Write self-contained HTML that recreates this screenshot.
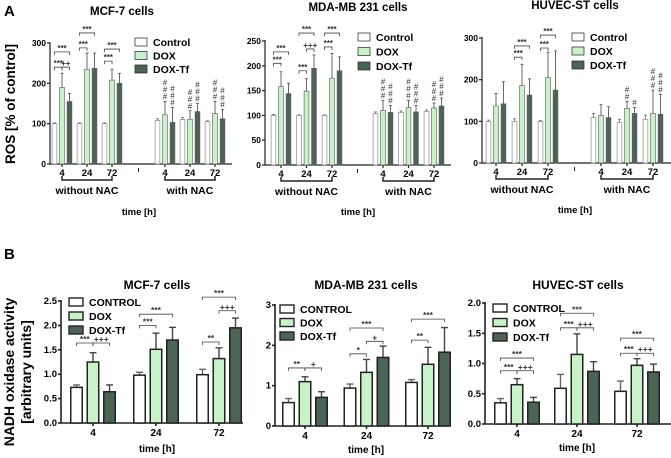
<!DOCTYPE html>
<html><head><meta charset="utf-8"><style>
body{margin:0;background:#fff}
svg{display:block;font-family:"Liberation Sans",Arial,sans-serif;font-weight:bold}
</style></head><body>
<svg id="fig" width="671" height="458" viewBox="0 0 671 458">
<text x="4" y="16" font-size="15">A</text>
<text x="4" y="259" font-size="15">B</text>
<text transform="translate(15,104) rotate(-90)" text-anchor="middle" font-size="13.5">ROS [% of control]</text>
<text transform="translate(14,372) rotate(-90)" text-anchor="middle" font-size="14">NADH oxidase activity</text>
<text transform="translate(31,372) rotate(-90)" text-anchor="middle" font-size="14">[arbitrary units]</text>
</svg>
<script>
// ===== data =====
const groupsA = ["4","24","72","4","24","72"];
const groupsB = ["4","24","72"];
const seriesNames = ["Control","DOX","DOX-Tf"];
const seriesNamesB = ["CONTROL","DOX","DOX-Tf"];
// A1 MCF-7 (mean, err-top)
const a1Ctrl=[100,100,100,108,110,105], a1CtrlE=[102,102,102,112,115,107];
const a1Dox=[190,235,208,122,111,125], a1DoxE=[225,275,235,155,132,155];
const a1Tf=[155,237,200,103,130,112], a1TfE=[175,275,225,140,150,135];
// A2 MDA-MB 231
const a2Ctrl=[100,100,100,104,106,108], a2CtrlE=[102,101,101,107,109,111];
const a2Dox=[158,149,175,110,116,115], a2DoxE=[188,174,225,130,130,125];
const a2Tf=[144,195,190,106,107,119], a2TfE=[165,222,218,120,120,135];
// A3 HUVEC-ST
const a3Ctrl=[100,100,100,109,97,105], a3CtrlE=[103,106,102,119,105,115];
const a3Dox=[137,186,205,114,131,119], a3DoxE=[167,237,266,140,148,175];
const a3Tf=[142,163,175,109,119,117], a3TfE=[195,202,269,135,133,165];
// hashes count [dox, tf] per group
const a1Hash=[[0,0],[0,0],[0,0],[3,3],[3,3],[3,3]];
const a2Hash=[[0,0],[0,0],[0,0],[3,3],[3,3],[3,3]];
const a3Hash=[[0,0],[0,0],[0,0],[0,0],[2,1],[3,3]];
// B
const b1Ctrl=[0.73,0.98,0.99], b1CtrlE=[0.78,1.04,1.10];
const b1Dox=[1.25,1.51,1.32], b1DoxE=[1.44,1.84,1.54];
const b1Tf=[0.64,1.70,1.95], b1TfE=[0.78,1.96,2.15];
const b2Ctrl=[0.58,0.94,1.08], b2CtrlE=[0.68,1.04,1.15];
const b2Dox=[1.10,1.33,1.53], b2DoxE=[1.22,1.65,1.95];
const b2Tf=[0.71,1.70,1.83], b2TfE=[0.85,1.98,2.44];
const b3Ctrl=[0.35,0.59,0.54], b3CtrlE=[0.42,0.82,0.71];
const b3Dox=[0.65,1.15,0.97], b3DoxE=[0.75,1.49,1.08];
const b3Tf=[0.36,0.87,0.86], b3TfE=[0.44,1.03,0.99];
// brackets: [group, barFrom, barTo, level, label]
const a1Br=[[0,0,1,240,"***"],[0,1,2,240,"++"],[0,0,2,278,"***"],[1,0,1,288,"***"],[1,0,2,325,"***"],[2,0,1,255,"***"],[2,0,2,285,"***"]];
const a2Br=[[0,0,1,205,"***"],[0,0,2,228,"***"],[1,0,1,190,"***"],[1,1,2,234,"+++"],[1,0,2,266,"***"],[2,0,1,238,"***"],[2,0,2,266,"***"]];
const a3Br=[[1,0,1,254,"***"],[1,0,2,281,"***"],[2,0,1,276,"***"],[2,0,2,307,"***"]];
const b1Br=[[0,0,1,1.64,"***"],[0,1,2,1.64,"+++"],[1,0,1,2.0,"***"],[1,0,2,2.23,"***"],[2,0,1,1.66,"**"],[2,1,2,2.3,"+++"],[2,0,2,2.58,"***"]];
const b2Br=[[0,0,1,1.44,"**"],[0,1,2,1.44,"+"],[1,0,1,1.79,"*"],[1,1,2,2.1,"+"],[1,0,2,2.43,"***"],[2,0,1,2.13,"**"],[2,0,2,2.65,"***"]];
const b3Br=[[0,0,1,0.88,"***"],[0,1,2,0.88,"+++"],[0,0,2,1.09,"***"],[1,0,1,1.59,"***"],[1,1,2,1.59,"+++"],[1,0,2,1.83,"***"],[2,0,1,1.17,"***"],[2,1,2,1.17,"+++"],[2,0,2,1.42,"***"]];
const yTicksA1=[0,100,200,300], yTicksA2=[0,50,100,150,200,250], yTicksA3=[0,100,200,300];
const yTicksB1=["0.0","0.5","1.0","1.5","2.0","2.5"], yTicksB2=["0","1","2","3"], yTicksB3=["0.0","0.5","1.0","1.5","2.0"];

// ===== drawing =====
const NS="http://www.w3.org/2000/svg", svg=document.getElementById('fig');
const FILLS=["#ffffff","#c8f2c8","#4b6456"];
function el(tag,attrs,parent,txt){const e=document.createElementNS(NS,tag);for(const k in attrs)e.setAttribute(k,attrs[k]);if(txt!==undefined)e.textContent=txt;(parent||svg).appendChild(e);return e;}

function panel(cfg){
  const g=el('g',{},svg);
  
  
  const maxV=cfg.max, y=v=>cfg.y0-(v/maxV)*(cfg.y0-cfg.yTop);
  const gx=i=>i<3?cfg.g0+i*cfg.step:cfg.n0+(i-3)*cfg.step;
  const bx=(i,s)=>gx(i)+(s-1)*cfg.off;
  const title=el('text',{x:cfg.tx,y:cfg.ty,'text-anchor':'middle','font-size':cfg.B?12:11.5},g,cfg.title);
  
  
  const sw=cfg.B?1.6:1.2;
  el('line',{x1:cfg.ax,y1:cfg.yTop-1,x2:cfg.ax,y2:cfg.y0,stroke:'#222','stroke-width':sw},g);
  el('line',{x1:cfg.ax,y1:cfg.y0,x2:cfg.axEnd,y2:cfg.y0,stroke:'#222','stroke-width':sw},g);
  cfg.ticks.forEach(t=>{const yy=y(parseFloat(t));
    el('line',{x1:cfg.ax-3,y1:yy,x2:cfg.ax,y2:yy,stroke:'#222','stroke-width':sw},g);
    const tl=el('text',{x:cfg.ax-4,y:yy+3,'text-anchor':'end','font-size':cfg.B?9.5:8.5},g,t);
    
    
  });
  const series=[cfg.ctrl,cfg.dox,cfg.tf], errs=[cfg.ctrlE,cfg.doxE,cfg.tfE];
  cfg.groups.forEach((lab,i)=>{
    el('line',{x1:gx(i),y1:cfg.y0,x2:gx(i),y2:cfg.y0+3,stroke:'#222','stroke-width':sw},g);
    const xl=el('text',{x:gx(i),y:cfg.y0+(cfg.B?13:12),'text-anchor':'middle','font-size':cfg.B?10:9.5},g,lab);
    
    
    for(let s=0;s<3;s++){
      const v=series[s][i], e=errs[s][i], cx=bx(i,s), w=cfg.bw;
      el('line',{x1:cx,y1:y(e),x2:cx,y2:y(v),stroke:s===0?'#666':'#444','stroke-width':cfg.B?1.4:0.8},g);
      el('line',{x1:cx-w*0.3,y1:y(e),x2:cx+w*0.3,y2:y(e),stroke:s===0?'#666':'#444','stroke-width':cfg.B?1.4:0.8},g);
      const r=el('rect',{x:cx-w/2,y:y(v),width:w,height:cfg.y0-y(v),fill:FILLS[s],stroke:cfg.B?'#222':(s===0?'#777':'#555'),'stroke-width':cfg.B?1.5:0.6},g);
      
      
    }
    if(cfg.hash){const h=cfg.hash[i];[1,2].forEach(s=>{for(let k=0;k<h[s-1];k++){
      const ht=el('text',{x:bx(i,s),y:y(errs[s][i])-2-k*7,'text-anchor':'middle','font-size':8,'font-weight':'normal',fill:'#333'},g,'#');
      
      }});}
  });
  cfg.br.forEach(b=>{
    const x1=bx(b[0],b[1]),x2=bx(b[0],b[2]),yy=y(b[3]);
    el('path',{d:`M${x1},${yy+3}V${yy}H${x2}V${yy+3}`,fill:'none',stroke:'#444','stroke-width':0.8},g);
    const st=el('text',{x:(x1+x2)/2,y:yy-1,'text-anchor':'middle','font-size':cfg.B?8.5:8,fill:'#333'},g,b[4]);
    
    
  });
  const names=cfg.B?seriesNamesB:seriesNames;
  names.forEach((n,s)=>{
    const ly=cfg.ly+s*cfg.lstep;
    const lw=cfg.B?14:12;
    el('rect',{x:cfg.lx,y:ly-4,width:lw,height:8,fill:FILLS[s],stroke:'#222','stroke-width':cfg.B?1.4:0.7},g);
    const lt=el('text',{x:cfg.lx+lw+6,y:ly+4,'font-size':cfg.B?10.5:10.5},g,n);
    
    
  });
  if(!cfg.B){
    const bk=(cfg.g0+2*cfg.step+cfg.n0)/2;
    el('line',{x1:bk,y1:cfg.y0+4,x2:bk,y2:cfg.y0+8,stroke:'#222','stroke-width':1},g);
    [[cfg.g0,"without NAC"],[cfg.n0,"with NAC"]].forEach(([s0,lab])=>{
      const e0=s0+2*cfg.step;
      el('path',{d:`M${s0},${cfg.y0+12}V${cfg.y0+16}H${e0}V${cfg.y0+12}`,fill:'none',stroke:'#222','stroke-width':1.5},g);
      const t=el('text',{x:(s0+e0)/2,y:cfg.y0+30,'text-anchor':'middle','font-size':10.5},g,lab);
      
      
    });
  }
  const xt=el('text',{x:cfg.xtx,y:cfg.xty,'text-anchor':'middle','font-size':cfg.B?10:9.5},g,'time [h]');
  
  
}

panel({name:'ros-mcf7-chart',title:'MCF-7 cells',tx:122,ty:15,max:300,y0:164,yTop:43,ax:50,axEnd:232,g0:62,n0:165,step:25,off:7.5,bw:4.8,groups:groupsA,
  ctrl:a1Ctrl,ctrlE:a1CtrlE,dox:a1Dox,doxE:a1DoxE,tf:a1Tf,tfE:a1TfE,hash:a1Hash,br:a1Br,ticks:yTicksA1,lx:135,ly:42,lstep:13.5,xtx:139,xty:215});
panel({name:'ros-mda-chart',title:'MDA-MB 231 cells',tx:358,ty:11,max:250,y0:165,yTop:41,ax:265,axEnd:451,g0:281,n0:383,step:25.5,off:7.5,bw:4.8,groups:groupsA,
  ctrl:a2Ctrl,ctrlE:a2CtrlE,dox:a2Dox,doxE:a2DoxE,tf:a2Tf,tfE:a2TfE,hash:a2Hash,br:a2Br,ticks:yTicksA2,lx:358,ly:37,lstep:14.5,xtx:358,xty:215});
panel({name:'ros-huvec-chart',title:'HUVEC-ST cells',tx:575,ty:9,max:300,y0:163,yTop:38,ax:482,axEnd:671,g0:496,n0:601,step:26,off:7.5,bw:4.8,groups:groupsA,
  ctrl:a3Ctrl,ctrlE:a3CtrlE,dox:a3Dox,doxE:a3DoxE,tf:a3Tf,tfE:a3TfE,hash:a3Hash,br:a3Br,ticks:yTicksA3,lx:572,ly:37,lstep:14,xtx:575,xty:213});
panel({B:true,name:'nadh-mcf7-chart',title:'MCF-7 cells',tx:157,ty:289,max:2.5,y0:423,yTop:301,ax:61,axEnd:243,g0:93,n0:0,step:63,off:16.5,bw:11.5,groups:groupsB,
  ctrl:b1Ctrl,ctrlE:b1CtrlE,dox:b1Dox,doxE:b1DoxE,tf:b1Tf,tfE:b1TfE,br:b1Br,ticks:yTicksB1,lx:69,ly:302,lstep:14,xtx:157,xty:452});
panel({B:true,name:'nadh-mda-chart',title:'MDA-MB 231 cells',tx:366,ty:289,max:3,y0:426,yTop:305,ax:275,axEnd:447,g0:305,n0:0,step:61.5,off:16.5,bw:11.5,groups:groupsB,
  ctrl:b2Ctrl,ctrlE:b2CtrlE,dox:b2Dox,doxE:b2DoxE,tf:b2Tf,tfE:b2TfE,br:b2Br,ticks:yTicksB2,lx:280,ly:309,lstep:13.5,xtx:366,xty:453});
panel({B:true,name:'nadh-huvec-chart',title:'HUVEC-ST cells',tx:578,ty:289,max:2,y0:424,yTop:303,ax:485,axEnd:671,g0:517,n0:0,step:60,off:16.5,bw:11.5,groups:groupsB,
  ctrl:b3Ctrl,ctrlE:b3CtrlE,dox:b3Dox,doxE:b3DoxE,tf:b3Tf,tfE:b3TfE,br:b3Br,ticks:yTicksB3,lx:493,ly:308,lstep:14.5,xtx:577,xty:451});
</script>
</body></html>
